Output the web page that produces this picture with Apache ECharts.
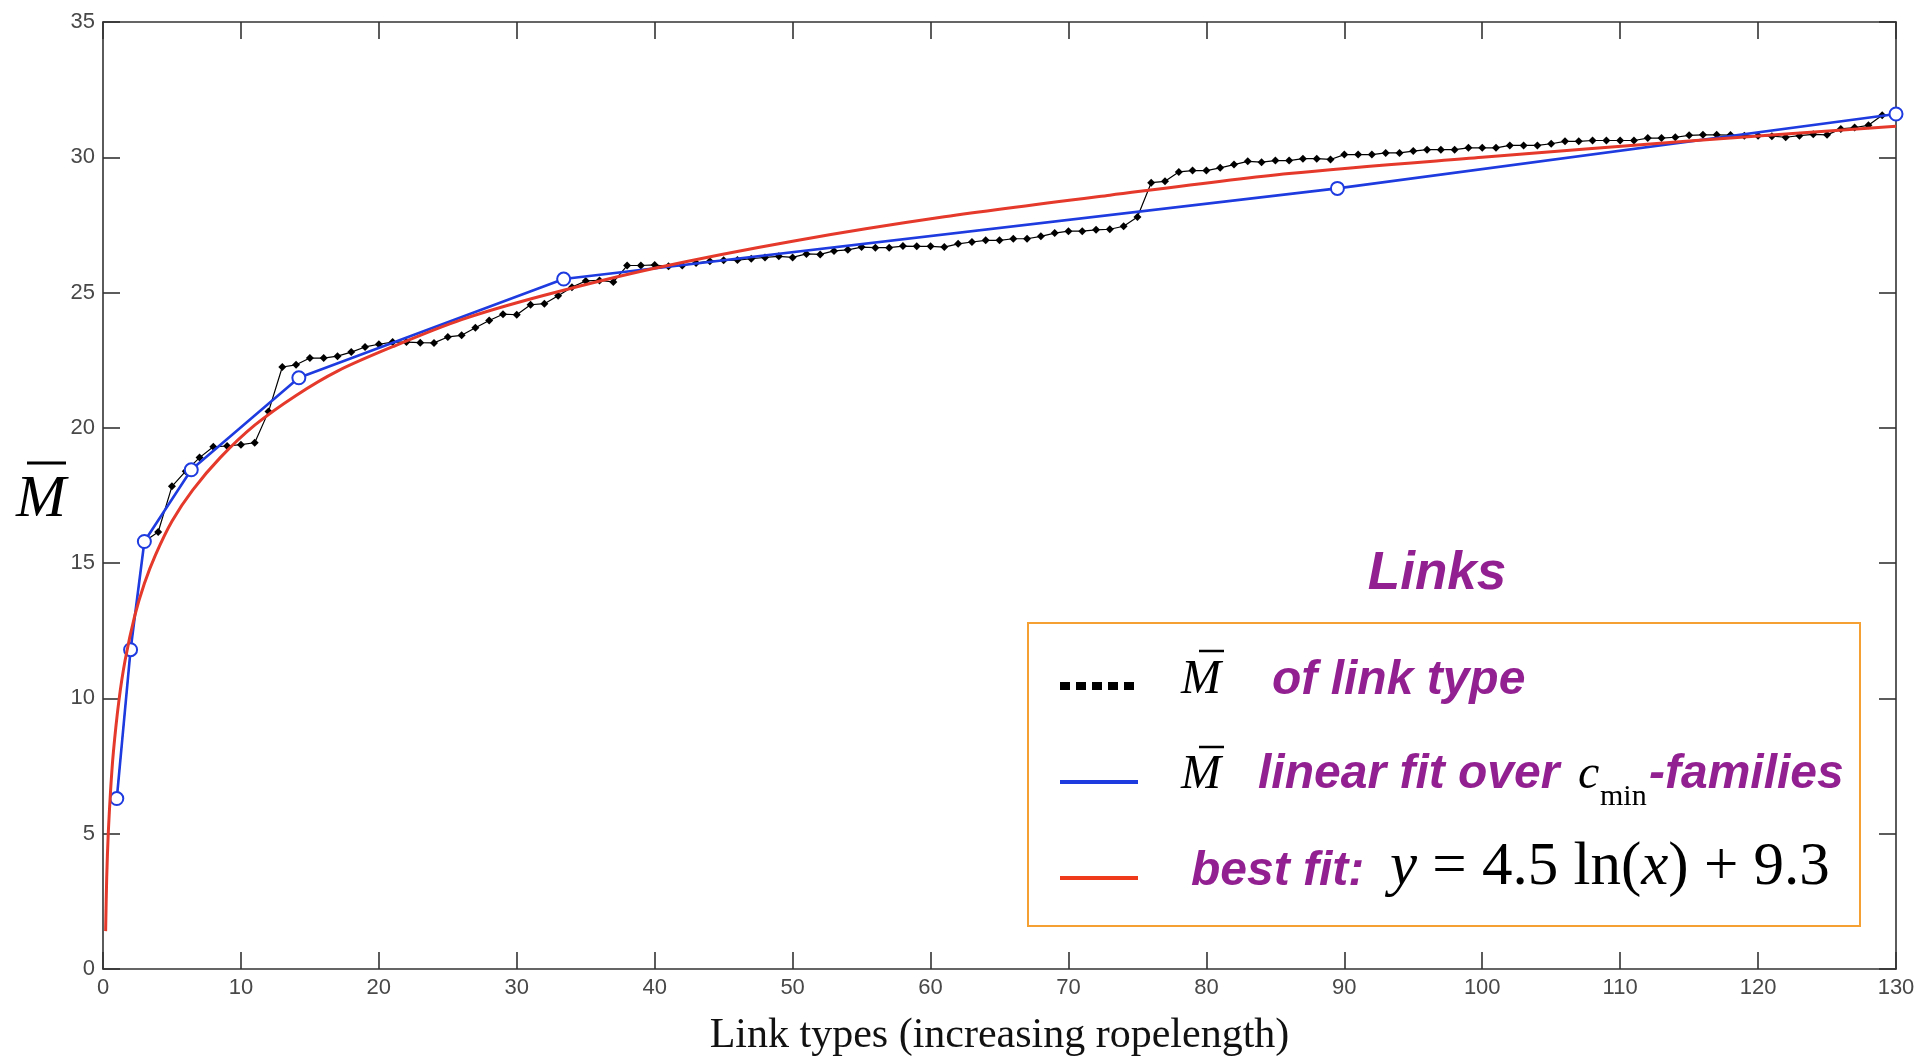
<!DOCTYPE html>
<html>
	<head>
		<meta charset="UTF-8">
		<title>Links</title>
		<style type="text/css">
			body{
				margin:0;
				background:#fff;
			}
			#main{
				width:1930px;
				height:1057px;
			}
		</style>
	</head>
	<body>
		<div id="main"></div>
		<script src="https://cdn.jsdelivr.net/npm/echarts@6.0.0/dist/echarts.min.js" type="text/javascript" charset="utf-8"></script>
		<script type="text/javascript">
			// M-bar of each link type, link types 1..130
			var linkTypeM = [
				6.3, 11.8, 15.8, 16.15, 17.84, 18.4, 18.9, 19.3, 19.33, 19.38,
				19.45, 20.6, 22.25, 22.33, 22.58, 22.58, 22.65, 22.8, 22.99, 23.09,
				23.17, 23.17, 23.15, 23.14, 23.36, 23.42, 23.7, 23.97, 24.2, 24.18,
				24.55, 24.59, 24.88, 25.2, 25.43, 25.45, 25.39, 26.0, 26.0, 26.02,
				25.97, 26.0, 26.09, 26.16, 26.19, 26.2, 26.25, 26.3, 26.34, 26.3,
				26.43, 26.41, 26.54, 26.58, 26.68, 26.66, 26.66, 26.72, 26.71, 26.71,
				26.68, 26.8, 26.87, 26.93, 26.93, 26.99, 26.99, 27.08, 27.2, 27.27,
				27.27, 27.32, 27.34, 27.45, 27.79, 29.06, 29.11, 29.46, 29.51, 29.51,
				29.61, 29.73, 29.85, 29.82, 29.88, 29.88, 29.95, 29.95, 29.92, 30.1,
				30.1, 30.1, 30.16, 30.16, 30.23, 30.28, 30.28, 30.28, 30.35, 30.35,
				30.35, 30.44, 30.44, 30.44, 30.5, 30.59, 30.59, 30.62, 30.62, 30.62,
				30.62, 30.71, 30.71, 30.74, 30.81, 30.83, 30.83, 30.82, 30.8, 30.8,
				30.78, 30.74, 30.8, 30.85, 30.83, 31.05, 31.1, 31.18, 31.55, 31.6
			];
			// linear fit over c_min families
			var familyX = [1, 2, 3, 6.4, 14.2, 33.4, 89.5, 130];
			var familyM = [6.3, 11.8, 15.8, 18.45, 21.85, 25.5, 28.85, 31.6];
			// best fit curve
			var fitX = [0.19, 0.27, 0.38, 0.55, 0.75, 1.15, 1.6, 2.3, 3.0, 3.8, 5, 6.5, 8.5, 11, 14, 17, 21, 26, 32, 40, 50, 61, 73, 86, 100, 115, 130];
			var fitY = [1.4, 3.4, 5.0, 6.6, 8.0, 9.9, 11.4, 13.05, 14.25, 15.3, 16.55, 17.7, 18.9, 20.1, 21.2, 22.1, 23.0, 24.0, 24.9, 25.9, 26.9, 27.8, 28.6, 29.4, 30.0, 30.6, 31.15];
			var xTicks = [0, 130, 10];
			var yTicks = [0, 35, 5];

			var purple = '#922091';
			var axisColor = '#333';
			var labelFont = 'Liberation Sans';
			var serif = 'Liberation Serif';

			function pairs(xs, ys){
				var out = [];
				for(var i = 0; i < xs.length; i++){
					out.push([xs[i], ys[i]]);
				}
				return out;
			}
			var linkData = linkTypeM.map(function(v, i){ return [i + 1, v]; });

			function makeAxis(range, pos, showLabel){
				return {
					type:'value',
					position:pos,
					min:range[0],
					max:range[1],
					interval:range[2],
					axisLine:{show:true, onZero:false, lineStyle:{color:axisColor, width:1.6}},
					axisTick:{show:true, inside:true, length:17, lineStyle:{color:axisColor, width:1.6}},
					axisLabel:{show:showLabel, color:'#484848', fontSize:22, fontFamily:labelFont, margin:8},
					splitLine:{show:false}
				};
			}

			var xBottom = makeAxis(xTicks, 'bottom', true);
			xBottom.name = 'Link types (increasing ropelength)';
			xBottom.nameLocation = 'middle';
			xBottom.nameGap = 46;
			xBottom.nameTextStyle = {fontFamily:serif, fontSize:42, color:'#111'};

			var myChart = echarts.init(document.getElementById('main'));
			var option = {
				animation:false,
				backgroundColor:'#fff',
				grid:{left:103, right:34, top:22, bottom:88, outerBoundsMode:'none'},
				xAxis:[xBottom, makeAxis(xTicks, 'top', false)],
				yAxis:[makeAxis(yTicks, 'left', true), makeAxis(yTicks, 'right', false)],
				series:[
					{
						name:'link type',
						type:'line',
						data:linkData,
						symbol:'diamond',
						symbolSize:8,
						lineStyle:{color:'#000', width:1.2},
						itemStyle:{color:'#000'},
						z:2
					},
					{
						name:'cmin families',
						type:'line',
						data:pairs(familyX, familyM),
						symbol:'emptyCircle',
						symbolSize:13,
						lineStyle:{color:'#1e3be0', width:2.6},
						itemStyle:{color:'#1e3be0', borderWidth:2},
						z:3
					},
					{
						name:'best fit',
						type:'line',
						data:pairs(fitX, fitY),
						smooth:0.3,
						symbol:'none',
						lineStyle:{color:'#e4392b', width:3},
						z:4
					}
				],
				graphic:[
					// y axis label: M with a bar
					{type:'text', left:16, top:470, style:{text:'M', font:'italic 60px "Liberation Serif"', fill:'#000'}},
					{type:'line', shape:{x1:27, y1:463, x2:66, y2:463}, style:{stroke:'#000', lineWidth:3}},
					// legend block
					{type:'text', x:1437, y:574, style:{text:'Links', font:'italic bold 53px "Liberation Sans"', fill:purple, align:'center', verticalAlign:'middle'}},
					{type:'rect', shape:{x:1028, y:623, width:832, height:303}, style:{fill:'#fff', stroke:'#f5a033', lineWidth:2}},
					{type:'line', shape:{x1:1060, y1:686, x2:1138, y2:686}, style:{stroke:'#000', lineWidth:8, lineDash:[10,6]}},
					{type:'line', shape:{x1:1060, y1:782, x2:1138, y2:782}, style:{stroke:'#1e3be0', lineWidth:4}},
					{type:'line', shape:{x1:1060, y1:878, x2:1138, y2:878}, style:{stroke:'#f03a1c', lineWidth:4}},
					{type:'text', x:1181, y:680, style:{text:'M', font:'italic 48px "Liberation Serif"', fill:'#000', verticalAlign:'middle'}},
					{type:'line', shape:{x1:1199, y1:651, x2:1224, y2:651}, style:{stroke:'#000', lineWidth:2.5}},
					{type:'text', x:1272, y:681, style:{text:'of link type', font:'italic bold 48px "Liberation Sans"', fill:purple, verticalAlign:'middle'}},
					{type:'text', x:1181, y:775, style:{text:'M', font:'italic 48px "Liberation Serif"', fill:'#000', verticalAlign:'middle'}},
					{type:'line', shape:{x1:1199, y1:747, x2:1224, y2:747}, style:{stroke:'#000', lineWidth:2.5}},
					{type:'text', x:1258, y:775, style:{text:'linear fit over', font:'italic bold 48px "Liberation Sans"', fill:purple, verticalAlign:'middle'}},
					{type:'text', x:1578, y:775, style:{text:'c', font:'italic 48px "Liberation Serif"', fill:'#000', verticalAlign:'middle'}},
					{type:'text', x:1600, y:797, style:{text:'min', font:'30px "Liberation Serif"', fill:'#000', verticalAlign:'middle'}},
					{type:'text', x:1649, y:775, style:{text:'-families', font:'italic bold 48px "Liberation Sans"', fill:purple, verticalAlign:'middle'}},
					{type:'text', x:1191, y:872, style:{text:'best fit:', font:'italic bold 48px "Liberation Sans"', fill:purple, verticalAlign:'middle'}},
					{type:'text', x:1390, y:868, style:{
						text:'{i|y} = 4.5 ln({i|x}) + 9.3',
						font:'61px "Liberation Serif"',
						fill:'#000',
						verticalAlign:'middle',
						rich:{i:{fontFamily:serif, fontStyle:'italic', fontSize:61, fill:'#000'}}
					}}
				]
			};
			myChart.setOption(option);
		</script>
	</body>
</html>
